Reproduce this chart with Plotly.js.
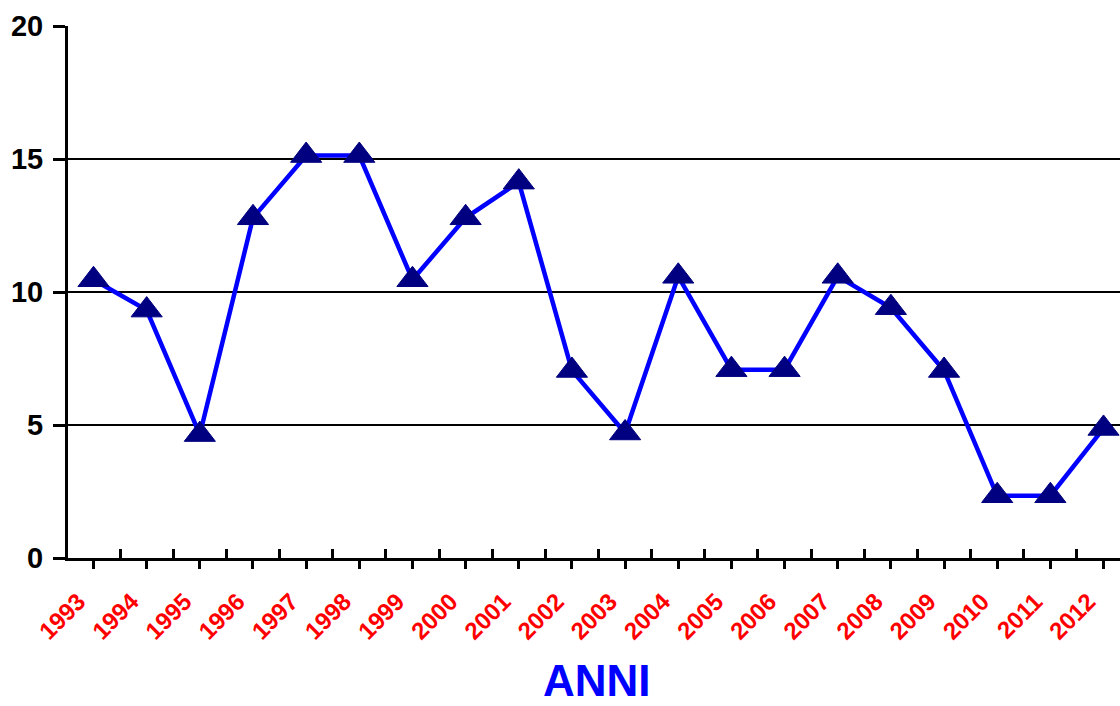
<!DOCTYPE html>
<html>
<head>
<meta charset="utf-8">
<script src="https://cdn.plot.ly/plotly-3.0.1.min.js"></script>
<style>html,body{margin:0;padding:0;background:#fff;}#chart{width:1120px;height:706px;}</style>
</head>
<body>
<div id="chart"></div>
<script>
var years = [1993,1994,1995,1996,1997,1998,1999,2000,2001,2002,2003,2004,2005,2006,2007,2008,2009,2010,2011,2012];
var yearLabels = ["1993","1994","1995","1996","1997","1998","1999","2000","2001","2002","2003","2004","2005","2006","2007","2008","2009","2010","2011","2012"];
var values = [10.46,9.32,4.64,12.79,15.13,15.13,10.46,12.79,14.13,7.05,4.70,10.59,7.08,7.08,10.59,9.41,7.05,2.34,2.34,4.87];
var yTicks = [0,5,10,15,20];
var xTitle = "ANNI";

var trace = {
  x: years,
  y: values,
  type: 'scatter',
  mode: 'lines+markers',
  line: {color: '#0000FF', width: 4.5},
  marker: {symbol: 'triangle-up', size: 27, color: '#000080', line: {color: '#000080', width: 1}},
  cliponaxis: false,
  hoverinfo: 'x+y'
};

var layout = {
  width: 1120,
  height: 706,
  margin: {l: 68, r: 0, t: 26, b: 148},
  paper_bgcolor: '#ffffff',
  plot_bgcolor: '#ffffff',
  showlegend: false,
  font: {family: '"Liberation Sans", Arial, sans-serif', color: '#000'},
  xaxis: {
    type: 'linear',
    range: [1992.52, 2012.31],
    tickmode: 'array',
    tickvals: years,
    ticktext: yearLabels,
    tickangle: -45,
    tickfont: {size: 24, color: '#FF0000', family: '"Liberation Sans", Arial, sans-serif', weight: 'bold'},
    ticks: 'outside',
    ticklen: 8,
    tickwidth: 3,
    tickcolor: '#000',
    ticklabelstandoff: 9,
    ticklabelshift: -15,
    showgrid: false,
    zeroline: false,
    showline: true,
    linecolor: '#000',
    linewidth: 3,
    minor: {ticks: 'inside', ticklen: 9, tickwidth: 3, tickcolor: '#000', tick0: 1992.5, dtick: 1, showgrid: false},
    fixedrange: true
  },
  yaxis: {
    range: [0, 20],
    tickmode: 'array',
    tickvals: yTicks,
    ticktext: yTicks.map(String),
    tickfont: {size: 29, color: '#000', family: '"Liberation Sans", Arial, sans-serif', weight: 'bold'},
    ticks: 'outside',
    ticklen: 12,
    tickwidth: 3,
    tickcolor: '#000',
    ticklabelstandoff: 4,
    showgrid: true,
    gridcolor: '#000',
    gridwidth: 1.3,
    zeroline: false,
    showline: true,
    linecolor: '#000',
    linewidth: 3,
    fixedrange: true
  },
  annotations: [{
    text: '<b>' + xTitle + '</b>',
    xref: 'paper', yref: 'paper',
    x: 0.503, y: -0.2305,
    xanchor: 'center', yanchor: 'middle',
    showarrow: false,
    font: {size: 44, color: '#0000FF', family: '"Liberation Sans", Arial, sans-serif'}
  }]
};

Plotly.newPlot('chart', [trace], layout, {displayModeBar: false, staticPlot: true});
</script>
</body>
</html>
